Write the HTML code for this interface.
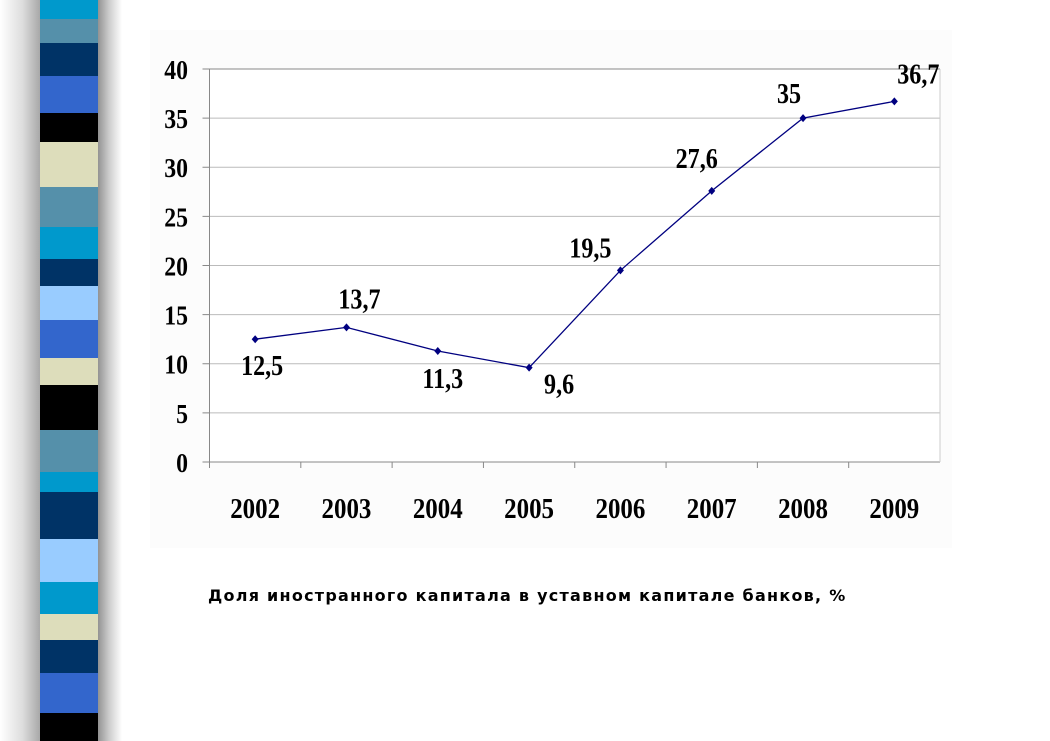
<!DOCTYPE html>
<html><head><meta charset="utf-8"><style>
html,body{margin:0;padding:0;background:#fff;}
body{width:1050px;height:741px;position:relative;overflow:hidden;}
#shadowL{position:absolute;left:0;top:0;width:45px;height:741px;background:linear-gradient(to right,#fff,#ddd 50%,#999);}
#shadowR{position:absolute;left:96px;top:0;width:26px;height:741px;background:linear-gradient(to right,#888,#ccc 50%,#fff);}
#strip{position:absolute;left:40px;top:0;width:58px;height:741px;}
#strip div{position:absolute;left:0;width:100%;}
svg{position:absolute;left:0;top:0;}
#caption{position:absolute;left:208px;top:586px;font:bold 16px "DejaVu Sans",sans-serif;letter-spacing:1.25px;color:#000;white-space:nowrap;}
</style></head><body>
<div id="shadowL"></div>
<div id="shadowR"></div>
<div id="strip"></div>
<svg width="1050" height="741" id="chart"></svg>
<div id="caption">Доля иностранного капитала в уставном капитале банков, %</div>
<script>
const stripes=[[0,19,'#0099cc'],[19,43,'#5590aa'],[43,76,'#003366'],[76,113,'#3366cc'],[113,142,'#000'],[142,187,'#ddddbb'],[187,227,'#5590aa'],[227,259,'#0099cc'],[259,286,'#003366'],[286,320,'#99ccff'],[320,358,'#3366cc'],[358,385,'#ddddbb'],[385,430,'#000'],[430,472,'#5590aa'],[472,492,'#0099cc'],[492,539,'#003366'],[539,582,'#99ccff'],[582,614,'#0099cc'],[614,640,'#ddddbb'],[640,673,'#003366'],[673,713,'#3366cc'],[713,741,'#000']];
const st=document.getElementById('strip');
stripes.forEach(s=>{const d=document.createElement('div');d.style.top=s[0]+'px';d.style.height=(s[1]-s[0])+'px';d.style.background=s[2];


st.appendChild(d);});

const categories=['2002','2003','2004','2005','2006','2007','2008','2009'];
const values=[12.5,13.7,11.3,9.6,19.5,27.6,35,36.7];
const valueLabels=['12,5','13,7','11,3','9,6','19,5','27,6','35','36,7'];
const yTicks=[0,5,10,15,20,25,30,35,40];
const labelOffsets=[[7,36],[13,-19],[5,37],[30,26],[-30,-13],[-15,-23],[-14,-15],[24,-18]];

const L=209.5,R=940,T=69,B=462,yMax=40;
const step=(R-L)/categories.length;
const x=i=>L+step*(i+0.5);
const y=v=>B-(v/yMax)*(B-T);
const svg=document.getElementById('chart');
const NS='http://www.w3.org/2000/svg';
function el(t,a,p){const e=document.createElementNS(NS,t);for(const k in a)e.setAttribute(k,a[k]);(p||svg).appendChild(e);return e;}
const bg=el('rect',{x:150,y:30,width:802,height:518,fill:'#fcfcfc'});


const pa=el('rect',{x:L,y:T,width:R-L,height:B-T,fill:'#fff',stroke:'none'});


yTicks.forEach(v=>{
 if(v>0){const g=el('line',{x1:L,x2:R,y1:y(v),y2:y(v),stroke:v==40?'#888':'#bbb','stroke-width':1});
 
 }
 el('line',{x1:L-7,x2:L,y1:y(v),y2:y(v),stroke:'#888'});
 const t=el('text',{x:188,y:y(v)+10,'text-anchor':'end','font-family':'Liberation Serif,serif','font-weight':'bold','font-size':27,transform:`translate(188 0) scale(0.88 1) translate(-188 0)`});
 t.textContent=v;
 
 
});
el('line',{x1:L,x2:L,y1:T,y2:B,stroke:'#888'});
el('line',{x1:L,x2:R,y1:B,y2:B,stroke:'#888'});
el('line',{x1:R,x2:R,y1:T,y2:B,stroke:'#ccc'});
categories.forEach((c,i)=>{
 el('line',{x1:L+step*i,x2:L+step*i,y1:B,y2:B+6,stroke:'#888'});
 const t=el('text',{x:x(i),y:518,'text-anchor':'middle','font-family':'Liberation Serif,serif','font-weight':'bold','font-size':29,transform:`translate(${x(i)} 0) scale(0.86 1) translate(${-x(i)} 0)`});
 t.textContent=c;
 
 
});
const line=el('polyline',{points:values.map((v,i)=>x(i)+','+y(v)).join(' '),fill:'none',stroke:'#000080','stroke-width':1.3});


values.forEach((v,i)=>{
 const cx=x(i),cy=y(v);
 const m=el('polygon',{points:`${cx},${cy-4} ${cx+3.5},${cy} ${cx},${cy+4} ${cx-3.5},${cy}`,fill:'#000080'});
 
 
 const lx=cx+labelOffsets[i][0],ly=cy+labelOffsets[i][1];
 const t=el('text',{x:lx,y:ly,'text-anchor':'middle','font-family':'Liberation Serif,serif','font-weight':'bold','font-size':28,transform:`translate(${lx} 0) scale(0.86 1) translate(${-lx} 0)`});
 t.textContent=valueLabels[i];
 
 
});
</script>
</body></html>
